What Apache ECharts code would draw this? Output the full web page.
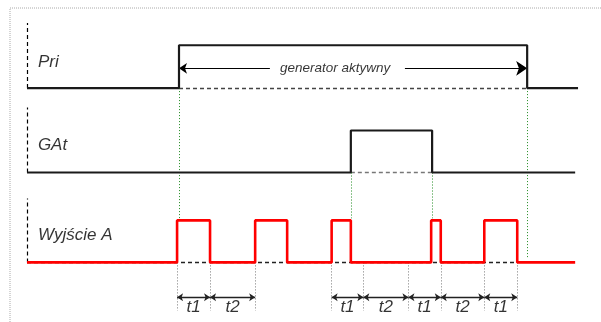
<!DOCTYPE html>
<html>
<head>
<meta charset="utf-8">
<script src="https://cdn.jsdelivr.net/npm/echarts@6/dist/echarts.min.js"></script>
<style>
  html, body { margin: 0; padding: 0; background: #fff; }
  #chart { width: 601px; height: 322px; }
</style>
</head>
<body>
<div id="chart"></div>
<script>
  // czas w umownych jednostkach (1 j. ~ 3.2 px), poziomy w jednostkach sygnału
  const tEnd = [172.2, 171.3, 171.3];              // koniec przebiegu: Pri, GAt, Wyjście A
  const rowNames = ['Pri', 'GAt', 'Wyjście A'];
  const rowBase = [4.15, 2.14, 0];                  // poziom niski każdego wiersza
  const rowHigh = [5.17, 3.14, 1];                  // poziom wysoki każdego wiersza
  const rowMarkTop = [5.7, 3.69, 1.52];             // góra przerywanej kreski po lewej
  const rowLabelLevel = [4.77, 2.8, 0.64];

  const priEdges = [47.5, 156.3];
  const gatEdges = [101.2, 126.6];
  const outEdges = [46.9, 57.2, 71.3, 81.3, 95.2, 101.2, 126.3, 129.3, 142.9, 153.2];

  // zielone kropkowane znaczniki: [czas, od, do]
  const greenMarks = [[47.5, 4.15, 1.05], [101.2, 2.14, 1.05], [126.6, 2.14, 1.05], [156.3, 4.15, 0.1]];

  // wymiary t1 / t2
  const dimTicks = [46.9, 57.2, 71.3, 95.2, 105.1, 119.2, 129.3, 142.9, 153.2];
  const dimSpans = [[46.9, 57.2, 't1'], [57.2, 71.3, 't2'], [95.2, 105.1, 't1'], [105.1, 119.2, 't2'],
                    [119.2, 129.3, 't1'], [129.3, 142.9, 't2'], [142.9, 153.2, 't1']];

  const genText = 'generator aktywny';
  const genTextAt = 96.3;
  const genArrowLeft = [47.5, 75.9];
  const genArrowRight = [118.1, 156.3];
  const genLevel = 4.62;
  const dimLevel = -0.83;
  const dimTextLevel = -1.07;
  const tickBottom = -1.15;

  function stepPoints(edges, lo, hi, end) {
    let pts = [[0, lo]];
    let level = lo;
    edges.forEach(e => {
      pts.push([e, level]);
      level = level === lo ? hi : lo;
      pts.push([e, level]);
    });
    pts.push([end, level]);
    return pts;
  }

  const font = '"Liberation Sans", Arial, sans-serif';
  let myChart = echarts.init(document.getElementById('chart'));

  let series = [];

  // przerywane kreski po lewej stronie wierszy
  series.push({
    type: 'lines', coordinateSystem: 'cartesian2d', silent: true,
    lineStyle: { color: '#000', width: 1.2, type: [4, 3], opacity: 1 },
    data: rowBase.map((b, i) => ({ coords: [[0, b], [0, rowMarkTop[i]]] }))
  });

  // przerywane linie bazowe pod stanem wysokim
  series.push({
    type: 'lines', coordinateSystem: 'cartesian2d', silent: true,
    lineStyle: { color: '#444', width: 1.3, type: [4, 3], opacity: 1 },
    data: [
      { coords: [[priEdges[0], rowBase[0]], [priEdges[1], rowBase[0]]] },
      { coords: [[gatEdges[0], rowBase[1]], [gatEdges[1], rowBase[1]]], lineStyle: { color: '#777' } },
      { coords: [[0, rowBase[2]], [outEdges[outEdges.length - 1], rowBase[2]]], lineStyle: { color: '#222' } }
    ]
  });

  // zielone znaczniki
  series.push({
    type: 'lines', coordinateSystem: 'cartesian2d', silent: true,
    lineStyle: { color: '#1f8a1f', width: 1, type: [1, 2], opacity: 1 },
    data: greenMarks.map(m => ({ coords: [[m[0], m[1]], [m[0], m[2]]] }))
  });

  // szare kropkowane piony wymiarów
  series.push({
    type: 'lines', coordinateSystem: 'cartesian2d', silent: true,
    lineStyle: { color: '#777', width: 1, type: [1, 2], opacity: 1 },
    data: dimTicks.map(t => ({ coords: [[t, rowBase[2]], [t, tickBottom]] }))
  });

  // strzałki wymiarów
  series.push({
    type: 'lines', coordinateSystem: 'cartesian2d', silent: true,
    symbol: ['arrow', 'arrow'], symbolSize: 6,
    lineStyle: { color: '#222', width: 1.3, opacity: 1 },
    data: dimSpans.map(s => ({ coords: [[s[0], dimLevel], [s[1], dimLevel]] }))
  });

  // strzałki "generator aktywny"
  series.push({
    type: 'lines', coordinateSystem: 'cartesian2d', silent: true,
    symbol: ['arrow', 'none'], symbolSize: [8, 11],
    lineStyle: { color: '#000', width: 1.2, opacity: 1 },
    data: [{ coords: [[genArrowLeft[0], genLevel], [genArrowLeft[1], genLevel]] }]
  });
  series.push({
    type: 'lines', coordinateSystem: 'cartesian2d', silent: true,
    symbol: ['none', 'arrow'], symbolSize: [8, 11],
    lineStyle: { color: '#000', width: 1.2, opacity: 1 },
    data: [{ coords: [[genArrowRight[0], genLevel], [genArrowRight[1], genLevel]] }]
  });

  // przebiegi
  series.push({
    type: 'line', showSymbol: false, silent: true, z: 5,
    lineStyle: { color: '#1a1a1a', width: 2.2 },
    data: stepPoints(priEdges, rowBase[0], rowHigh[0], tEnd[0])
  });
  series.push({
    type: 'line', showSymbol: false, silent: true, z: 5,
    lineStyle: { color: '#1a1a1a', width: 2.2 },
    data: stepPoints(gatEdges, rowBase[1], rowHigh[1], tEnd[1])
  });
  series.push({
    type: 'line', showSymbol: false, silent: true, z: 6,
    lineStyle: { color: '#ff0000', width: 2.6 },
    data: stepPoints(outEdges, rowBase[2], rowHigh[2], tEnd[2])
  });

  // etykiety wierszy
  series.push({
    type: 'scatter', symbolSize: 0, silent: true, z: 7,
    data: rowNames.map((n, i) => [3.4, rowLabelLevel[i], n]),
    label: {
      show: true, position: 'right', distance: 0,
      formatter: p => p.value[2],
      fontFamily: font, fontStyle: 'italic', fontSize: 17, color: '#000'
    }
  });

  // opisy t1 / t2
  series.push({
    type: 'scatter', symbolSize: 0, silent: true, z: 7,
    data: dimSpans.map(s => [(s[0] + s[1]) / 2, dimTextLevel, s[2]]),
    label: {
      show: true, position: 'inside',
      formatter: p => p.value[2],
      fontFamily: font, fontStyle: 'italic', fontSize: 17, color: '#000'
    }
  });

  // opis "generator aktywny"
  series.push({
    type: 'scatter', symbolSize: 0, silent: true, z: 7,
    data: [[genTextAt, genLevel, genText]],
    label: {
      show: true, position: 'inside',
      formatter: p => p.value[2],
      fontFamily: font, fontStyle: 'italic', fontSize: 13.5, color: '#000'
    }
  });

  myChart.setOption({
    animation: false,
    backgroundColor: '#fff',
    grid: { left: 27, top: 23, width: 172 * 3.2, height: 6.85 * 42 },
    xAxis: { type: 'value', min: 0, max: 172, show: false },
    yAxis: { type: 'value', min: -1.15, max: 5.7, show: false },
    graphic: [{
      type: 'rect', silent: true,
      shape: { x: 10, y: 8, width: 700, height: 400 },
      style: { fill: 'none', stroke: '#aaa', lineWidth: 1, lineDash: [1, 1] }
    }],
    series: series
  });
</script>
</body>
</html>
